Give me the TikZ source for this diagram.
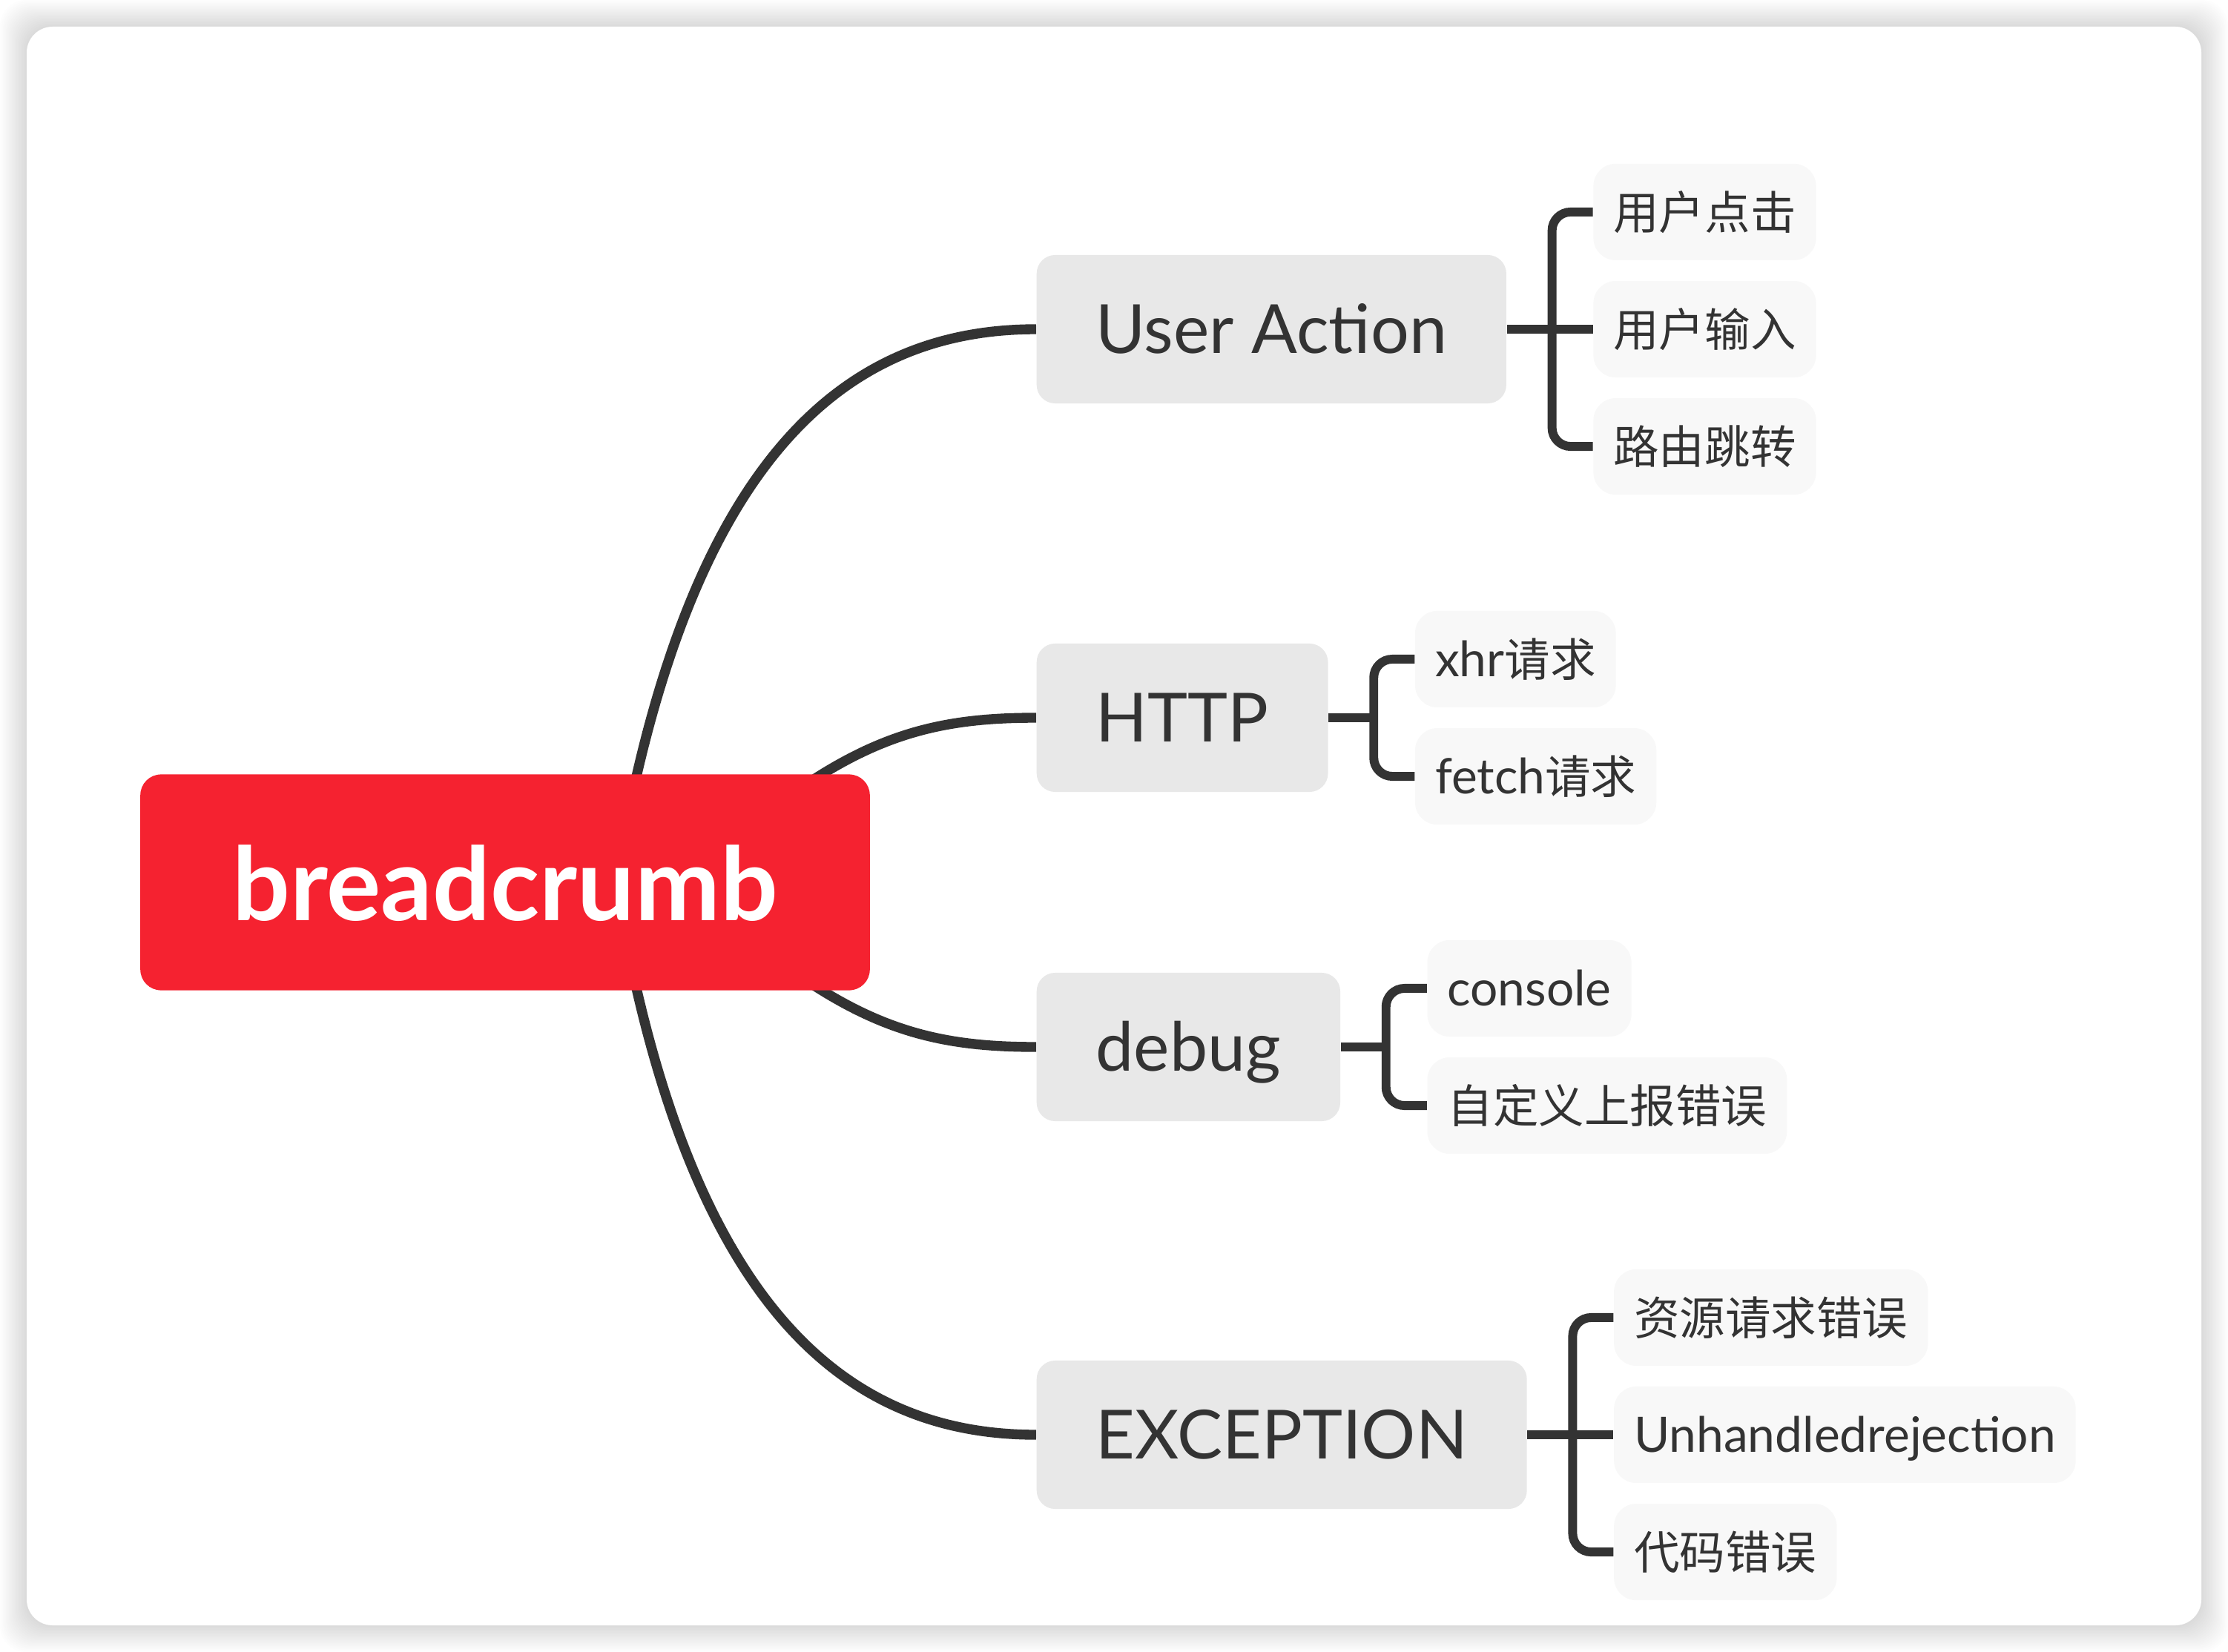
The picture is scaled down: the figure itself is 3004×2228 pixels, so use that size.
\documentclass[tikz,border=0pt]{standalone}
\usepackage{fontspec}
\setmainfont{Lato}
\newfontfamily\leaflatin{Lato}[Scale=1.07]
\newfontfamily\cjk{Noto Sans CJK SC}
\usetikzlibrary{positioning,calc,backgrounds}
\definecolor{rootred}{RGB}{245,34,48}
\definecolor{topicgray}{RGB}{232,232,232}
\definecolor{leafgray}{RGB}{248,248,248}
\definecolor{inkgray}{RGB}{51,51,51}
\tikzset{
  rootbox/.style={rectangle,rounded corners=0.28cm,fill=rootred,text=white,minimum width=9.83cm,minimum height=2.91cm,font=\bfseries\fontsize{39}{46}\selectfont,text height=29pt,text depth=0pt},
  topic/.style={rectangle,rounded corners=0.25cm,fill=topicgray,text=inkgray,minimum height=2cm,inner xsep=0.8cm,font=\fontsize{26}{31}\selectfont,text height=18.7pt,text depth=0pt},
  leaf/.style={rectangle,rounded corners=0.3cm,fill=leafgray,text=inkgray,minimum height=1.3cm,inner xsep=0.27cm,font=\leaflatin\fontsize{17.5}{21}\selectfont,text height=13.4pt,text depth=0pt},
  branch/.style={draw=inkgray,line width=3.8pt},
  fork/.style={draw=inkgray,line width=3.4pt,rounded corners=0.25cm}
}

\begin{document}
\begin{tikzpicture}[x=0.01cm,y=-0.01cm]
  \useasboundingbox (0,0) rectangle (3004,2228);
  % card and its soft shadow
  \begin{scope}[on background layer]
    \foreach \s in {2,4,...,36}
      \fill[black,opacity=0.008,rounded corners=0.35cm] (36-\s,36-\s) rectangle (2968+\s,2192+\s);
    \fill[white,rounded corners=0.35cm] (36,36) rectangle (2968,2192);
  \end{scope}

  \node[rootbox] (bc) at (681,1190) {breadcrumb};

  \node[topic,anchor=west] (ua) at (1397,444) {User Action};
  \node[topic,anchor=west] (http) at (1397,968) {HTTP};
  \node[topic,anchor=west] (dbg) at (1397,1412) {debug};
  \node[topic,anchor=west] (exc) at (1397,1935) {EXCEPTION};

  \node[leaf,right=1.16cm of ua,yshift=1.58cm] (ua1) {\cjk 用户点击};
  \node[leaf,right=1.16cm of ua] (ua2) {\cjk 用户输入};
  \node[leaf,right=1.16cm of ua,yshift=-1.58cm] (ua3) {\cjk 路由跳转};
  \node[leaf,right=1.16cm of http,yshift=0.79cm] (http1) {xhr{\cjk 请求}};
  \node[leaf,right=1.16cm of http,yshift=-0.79cm] (http2) {fetch{\cjk 请求}};
  \node[leaf,right=1.16cm of dbg,yshift=0.79cm] (dbg1) {console};
  \node[leaf,right=1.16cm of dbg,yshift=-0.79cm] (dbg2) {\cjk 自定义上报错误};
  \node[leaf,right=1.16cm of exc,yshift=1.58cm] (exc1) {\cjk 资源请求错误};
  \node[leaf,right=1.16cm of exc] (exc2) {Unhandledrejection};
  \node[leaf,right=1.16cm of exc,yshift=-1.58cm] (exc3) {\cjk 代码错误};

  % curved branches from the root, behind it
  \begin{scope}[on background layer]
    \draw[branch] ($(bc.north)+(169,40)$) .. controls +(104,-490) and +(-240,0) .. (ua.west);
    \draw[branch] ($(bc.north)+(393,23)$) .. controls +(115,-80) and +(-120,0) .. (http.west);
    \draw[branch] ($(bc.south)+(393,-23)$) .. controls +(115,80) and +(-120,0) .. (dbg.west);
    \draw[branch] ($(bc.south)+(169,-40)$) .. controls +(104,490) and +(-240,0) .. (exc.west);
  \end{scope}

  % brackets to the leaves
  \coordinate (uafork) at ($(ua.east)+(61,0)$);
  \coordinate (httpfork) at ($(http.east)+(61,0)$);
  \coordinate (dbgfork) at ($(dbg.east)+(61,0)$);
  \coordinate (excfork) at ($(exc.east)+(61,0)$);
  \draw[fork] (ua1.west) -| (uafork) |- (ua3.west);
  \draw[fork] (ua.east) -- (ua2.west);
  \draw[fork] (http1.west) -| (httpfork) |- (http2.west);
  \draw[fork] (http.east) -- (httpfork);
  \draw[fork] (dbg1.west) -| (dbgfork) |- (dbg2.west);
  \draw[fork] (dbg.east) -- (dbgfork);
  \draw[fork] (exc1.west) -| (excfork) |- (exc3.west);
  \draw[fork] (exc.east) -- (exc2.west);
\end{tikzpicture}
\end{document}
